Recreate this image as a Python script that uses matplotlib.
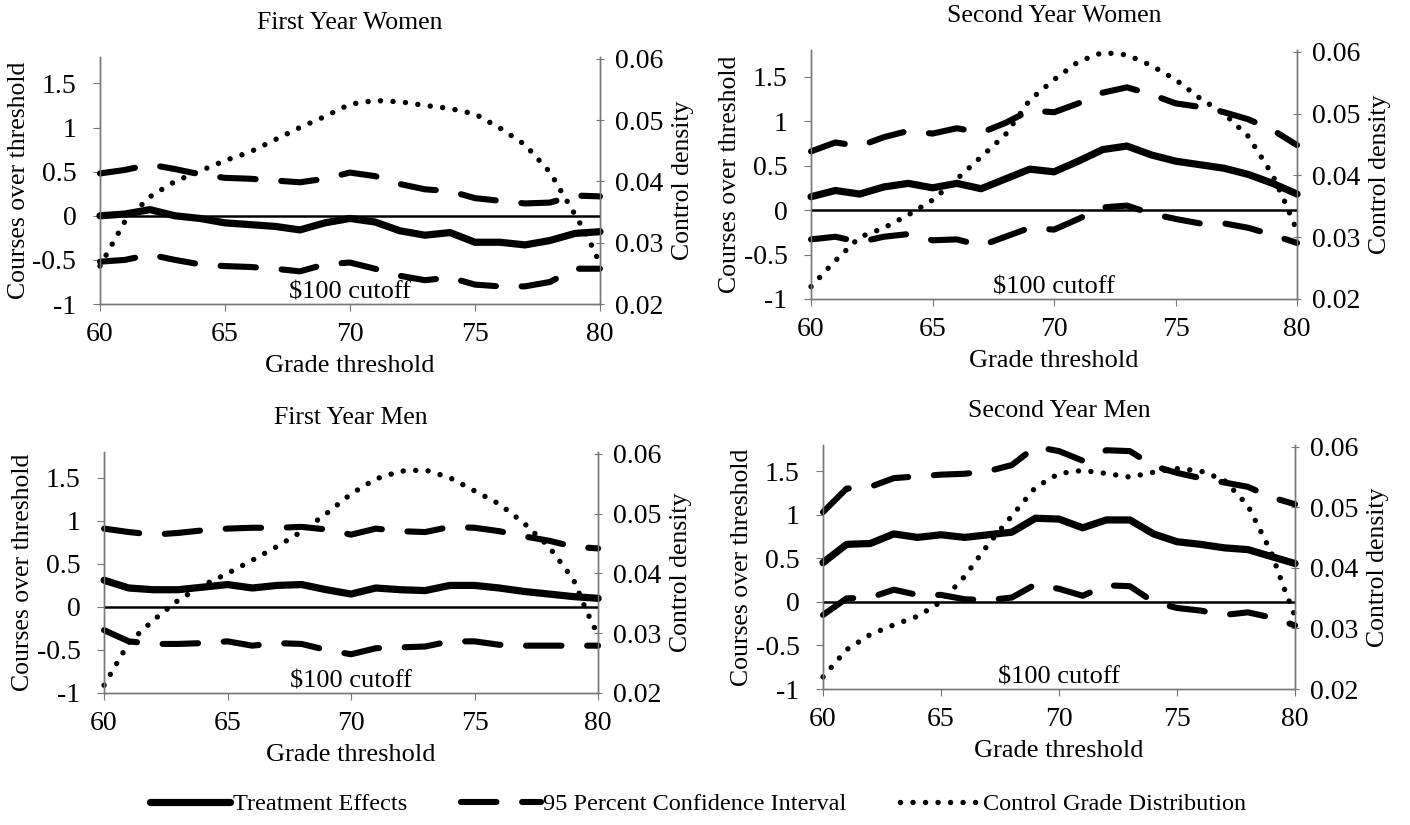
import matplotlib.pyplot as plt
from matplotlib.lines import Line2D

plt.rcParams['font.family'] = ['Liberation Serif', 'DejaVu Serif']

grade = list(range(60, 81))
dens_grade = list(range(60, 80)) + [79.5, 80]

titles = ["First Year Women", "Second Year Women", "First Year Men", "Second Year Men"]

# treatment effects
fyw_eff = [0.0, 0.02, 0.07, 0.0, -0.03, -0.08, -0.1, -0.12, -0.16, -0.08, -0.03,
           -0.07, -0.17, -0.22, -0.19, -0.3, -0.3, -0.33, -0.28, -0.2, -0.18]
syw_eff = [0.15, 0.22, 0.18, 0.26, 0.3, 0.25, 0.3, 0.24, 0.35, 0.46, 0.43,
           0.55, 0.68, 0.72, 0.62, 0.55, 0.51, 0.47, 0.4, 0.3, 0.18]
fym_eff = [0.31, 0.22, 0.2, 0.2, 0.23, 0.26, 0.22, 0.25, 0.26, 0.2, 0.15,
           0.22, 0.2, 0.19, 0.25, 0.25, 0.22, 0.18, 0.15, 0.12, 0.1]
sym_eff = [0.45, 0.66, 0.67, 0.78, 0.74, 0.77, 0.74, 0.77, 0.8, 0.96, 0.95,
           0.85, 0.94, 0.94, 0.78, 0.69, 0.66, 0.62, 0.6, 0.52, 0.44]

# 95% CI upper / lower
fyw_hi = [0.48, 0.52, 0.58, 0.53, 0.47, 0.43, 0.42, 0.4, 0.38, 0.42, 0.49,
          0.45, 0.36, 0.3, 0.28, 0.2, 0.17, 0.14, 0.15, 0.23, 0.22]
fyw_lo = [-0.52, -0.5, -0.44, -0.5, -0.55, -0.57, -0.58, -0.6, -0.63, -0.55, -0.53,
          -0.6, -0.68, -0.73, -0.7, -0.78, -0.8, -0.8, -0.75, -0.6, -0.6]
syw_hi = [0.66, 0.76, 0.72, 0.82, 0.89, 0.86, 0.92, 0.87, 0.98, 1.12, 1.1,
          1.2, 1.32, 1.38, 1.3, 1.2, 1.16, 1.1, 1.02, 0.9, 0.73]
syw_lo = [-0.33, -0.3, -0.36, -0.3, -0.27, -0.34, -0.33, -0.4, -0.3, -0.2, -0.22,
          -0.1, 0.03, 0.05, -0.04, -0.1, -0.15, -0.15, -0.2, -0.28, -0.37]
fym_hi = [0.91, 0.87, 0.84, 0.86, 0.89, 0.91, 0.92, 0.92, 0.93, 0.9, 0.84,
          0.91, 0.88, 0.87, 0.93, 0.92, 0.88, 0.82, 0.77, 0.7, 0.68]
fym_lo = [-0.27, -0.4, -0.43, -0.43, -0.42, -0.4, -0.45, -0.42, -0.43, -0.5, -0.55,
          -0.48, -0.47, -0.46, -0.4, -0.4, -0.44, -0.45, -0.45, -0.45, -0.45]
sym_hi = [1.03, 1.3, 1.32, 1.42, 1.44, 1.46, 1.47, 1.5, 1.57, 1.78, 1.73,
          1.62, 1.74, 1.73, 1.56, 1.48, 1.42, 1.37, 1.32, 1.2, 1.12]
sym_lo = [-0.15, 0.04, 0.05, 0.14, 0.08, 0.08, 0.03, 0.02, 0.05, 0.2, 0.15,
          0.07, 0.19, 0.18, 0.0, -0.07, -0.1, -0.15, -0.12, -0.18, -0.27]

# control grade density
fyw_dens = [0.0262, 0.0335, 0.0375, 0.040, 0.0417, 0.0434, 0.0448, 0.0468, 0.0488, 0.0506,
            0.0526, 0.0532, 0.053, 0.0524, 0.0519, 0.051, 0.0487, 0.046, 0.0415, 0.0346,
            0.031, 0.0266]
syw_dens = [0.022, 0.0262, 0.030, 0.0315, 0.0336, 0.036, 0.0394, 0.043, 0.0466, 0.0522,
            0.0555, 0.0584, 0.0599, 0.0595, 0.0578, 0.0555, 0.0525, 0.050, 0.0463, 0.040,
            0.0357, 0.031]
fym_dens = [0.0213, 0.0284, 0.0322, 0.0355, 0.038, 0.040, 0.0422, 0.0445, 0.047, 0.050,
            0.0533, 0.0558, 0.0571, 0.0573, 0.056, 0.0538, 0.0516, 0.0484, 0.0445, 0.039,
            0.034, 0.0296]
sym_dens = [0.022, 0.0265, 0.029, 0.0306, 0.032, 0.0344, 0.0386, 0.0439, 0.0486, 0.0533,
            0.0556, 0.0561, 0.0556, 0.055, 0.0558, 0.0564, 0.056, 0.0545, 0.0503, 0.0425,
            0.037, 0.032]

effects = [fyw_eff, syw_eff, fym_eff, sym_eff]
his = [fyw_hi, syw_hi, fym_hi, sym_hi]
los = [fyw_lo, syw_lo, fym_lo, sym_lo]
dens = [fyw_dens, syw_dens, fym_dens, sym_dens]

# axes boxes in figure fractions [left, bottom, width, height]
boxes = [[0.0709, 0.6315, 0.3546, 0.2994],
         [0.5752, 0.6376, 0.3447, 0.3018],
         [0.0738, 0.1600, 0.3504, 0.2921],
         [0.5837, 0.1648, 0.3348, 0.2958]]

fig = plt.figure(figsize=(14.1, 8.25), dpi=100)

solid_kw = dict(color='black', lw=5.2, solid_capstyle='round', solid_joinstyle='round')
dash_kw = dict(color='black', lw=4.4, dashes=(5.8, 4.2), dash_capstyle='round')
dot_kw = dict(color='black', lw=3.9, dashes=(0.01, 2.3), dash_capstyle='round')

for i in range(4):
    ax = fig.add_axes(boxes[i])
    ax2 = ax.twinx()
    ax.set_zorder(ax2.get_zorder() + 1)
    ax.patch.set_visible(False)

    ax2.plot(dens_grade, dens[i], clip_on=False, **dot_kw)
    ax.axhline(0, color='black', lw=1.8)
    ax.plot(grade, his[i], clip_on=False, **dash_kw)
    ax.plot(grade, los[i], clip_on=False, **dash_kw)
    ax.plot(grade, effects[i], clip_on=False, **solid_kw)

    ax.set_xlim(60, 80)
    ax.set_ylim(-1, 1.8)
    ax2.set_ylim(0.02, 0.0603)
    ax.set_xticks([60, 65, 70, 75, 80])
    ax.set_yticks([-1, -0.5, 0, 0.5, 1, 1.5])
    ax.set_yticklabels(['-1', '-0.5', '0', '0.5', '1', '1.5'])
    ax2.set_yticks([0.02, 0.03, 0.04, 0.05, 0.06])
    ax2.set_yticklabels(['0.02', '0.03', '0.04', '0.05', '0.06'])

    for a in (ax, ax2):
        a.spines['top'].set_visible(False)
        for s in ('left', 'right', 'bottom'):
            a.spines[s].set_color('#777777')
            a.spines[s].set_linewidth(1.0)
    ax.tick_params(axis='both', labelsize=20, length=5, color='#777777', pad=8)
    ax.tick_params(axis='y', pad=12)
    ax2.tick_params(axis='y', labelsize=20, length=6, color='#777777',
                    direction='inout', pad=8)

    ax.set_title(titles[i], fontsize=18.5, pad=20)
    ax.set_xlabel("Grade threshold", fontsize=19, labelpad=6)
    ax.set_ylabel("Courses over threshold", fontsize=18.5, labelpad=2)
    ax2.set_ylabel("Control density", fontsize=18.5, labelpad=6)
    ax.text(70, -0.995, "$100 cutoff", ha='center', va='bottom', fontsize=19)

handles = [Line2D([], [], **solid_kw), Line2D([], [], **dash_kw),
           Line2D([], [], **dot_kw)]
labels = ["Treatment Effects", "95 Percent Confidence Interval",
          "Control Grade Distribution"]
fig.legend(handles, labels, loc='center', bbox_to_anchor=(0.495, 0.025), ncol=3,
           frameon=False, fontsize=17.5, handlelength=3.3, handletextpad=0.1,
           columnspacing=2.2)

fig.savefig("out.png", dpi=100)
